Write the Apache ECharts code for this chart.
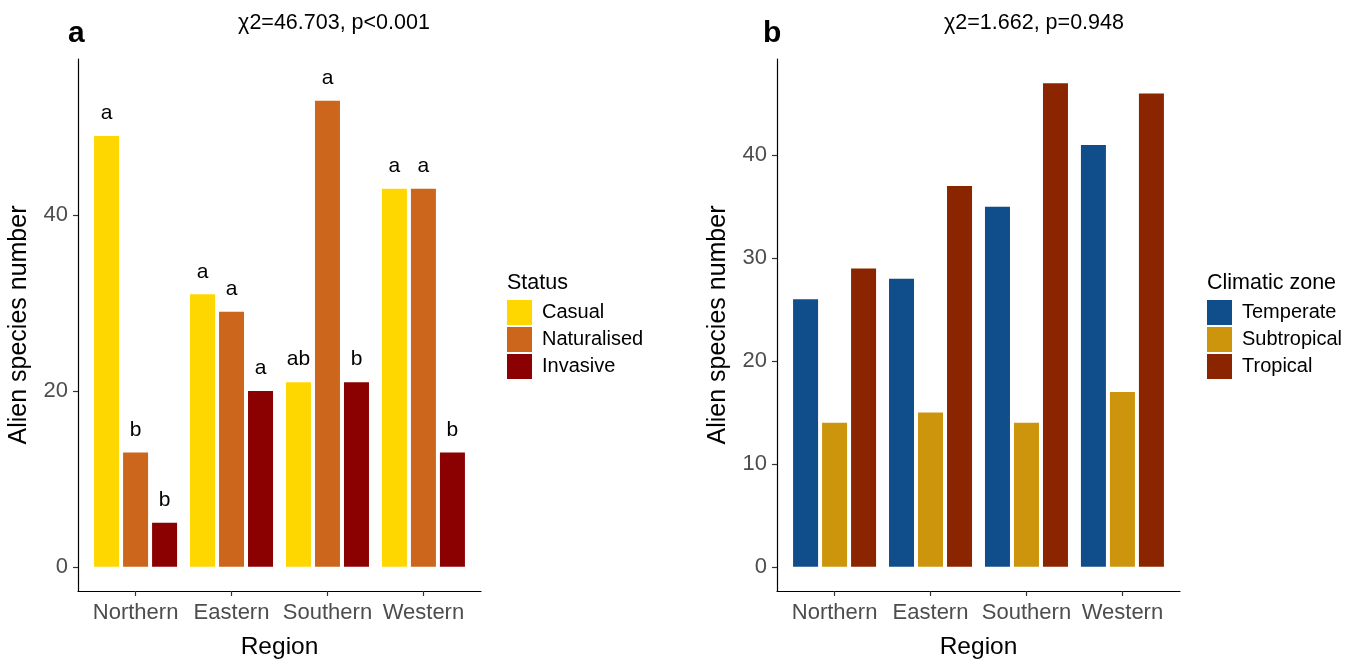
<!DOCTYPE html>
<html>
<head>
<meta charset="utf-8">
<script src="https://cdn.jsdelivr.net/npm/echarts@6/dist/echarts.min.js"></script>
<style>html,body{margin:0;padding:0;background:#fff;}#c{width:1357px;height:665px;}</style>
</head>
<body>
<div id="c"></div>
<script>
const regions = ['Northern', 'Eastern', 'Southern', 'Western'];
// Panel a: status
const casual = [49, 31, 21, 43];
const naturalised = [13, 29, 53, 43];
const invasive = [5, 20, 21, 13];
const casualLetters = ['a', 'a', 'ab', 'a'];
const naturalisedLetters = ['b', 'a', 'a', 'a'];
const invasiveLetters = ['b', 'a', 'b', 'b'];
const ticksA = [0, 20, 40];
// Panel b: climatic zone
const temperate = [26, 28, 35, 41];
const subtropical = [14, 15, 14, 17];
const tropical = [29, 37, 47, 46];
const ticksB = [0, 10, 20, 30, 40];

const FONT = '"Liberation Sans", Arial, sans-serif';
const regionPos = regions.map((r, i) => i + 1);
const chart = echarts.init(document.getElementById('c'));

function xAx(gi) {
  return {
    type: 'value', gridIndex: gi, min: 0.4, max: regions.length + 0.6,
    name: 'Region', nameLocation: 'middle', nameGap: 44,
    nameTextStyle: {fontSize: 24.5, color: '#000', fontFamily: FONT},
    axisLine: {show: true, onZero: false, lineStyle: {color: '#000', width: 1.2}},
    axisTick: {show: true, length: 5, customValues: regionPos, lineStyle: {color: '#333', width: 1.2}},
    axisLabel: {fontSize: 22, color: '#4D4D4D', fontFamily: FONT, margin: 11,
      customValues: regionPos, formatter: v => regions[Math.round(v) - 1]},
    splitLine: {show: false}
  };
}
function yAx(gi, min, max, ticks) {
  return {
    type: 'value', gridIndex: gi, min: min, max: max,
    name: 'Alien species number', nameLocation: 'middle', nameGap: 46,
    nameTextStyle: {fontSize: 25, color: '#000', fontFamily: FONT},
    axisLine: {show: true, onZero: false, lineStyle: {color: '#000', width: 1.2}},
    axisTick: {show: true, length: 5, customValues: ticks, lineStyle: {color: '#333', width: 1.2}},
    axisLabel: {fontSize: 22, color: '#4D4D4D', fontFamily: FONT, margin: 10, customValues: ticks},
    splitLine: {show: false}
  };
}
function bar(name, vals, color, gi, letters) {
  const s = {
    name: name, type: 'bar', xAxisIndex: gi, yAxisIndex: gi,
    data: vals.map((v, i) => [regionPos[i], v]),
    barWidth: 25, barGap: '16%',
    itemStyle: {color: color},
    emphasis: {disabled: true}
  };
  if (letters) {
    s.label = {show: true, position: 'top', distance: 12, fontSize: 21, color: '#000', fontFamily: FONT,
      formatter: p => letters[p.dataIndex]};
  }
  return s;
}
function legend(items, left) {
  return {
    data: items, orient: 'vertical', left: left, top: 300, padding: 0,
    itemWidth: 25, itemHeight: 25, itemGap: 2, icon: 'rect',
    textStyle: {fontSize: 20, color: '#000', fontFamily: FONT, padding: [0, 0, 0, 5]},
    selectedMode: false
  };
}
function txt(x, y, t, size, weight, align) {
  return {type: 'text', x: x, y: y, style: {text: t, fontSize: size, fontWeight: weight || 'normal',
    fill: '#000', fontFamily: FONT, align: align || 'left', verticalAlign: 'middle'}};
}

chart.setOption({
  animation: false,
  backgroundColor: '#fff',
  grid: [
    {left: 78, top: 59, width: 403, height: 533},
    {left: 777, top: 59, width: 403, height: 533}
  ],
  xAxis: [xAx(0), xAx(1)],
  yAxis: [yAx(0, -2.75, 57.75, ticksA), yAx(1, -2.35, 49.35, ticksB)],
  legend: [
    legend(['Casual', 'Naturalised', 'Invasive'], 507),
    legend(['Temperate', 'Subtropical', 'Tropical'], 1207)
  ],
  graphic: [
    txt(68, 34, 'a', 30, 'bold'),
    txt(763, 34, 'b', 30, 'bold'),
    txt(334, 23, 'χ2=46.703, p<0.001', 21.5, 'normal', 'center'),
    txt(1034, 23, 'χ2=1.662, p=0.948', 21.5, 'normal', 'center'),
    txt(507, 283, 'Status', 21.5),
    txt(1207, 283, 'Climatic zone', 21.5)
  ],
  series: [
    bar('Casual', casual, '#FFD700', 0, casualLetters),
    bar('Naturalised', naturalised, '#CD661D', 0, naturalisedLetters),
    bar('Invasive', invasive, '#8B0000', 0, invasiveLetters),
    bar('Temperate', temperate, '#104E8B', 1),
    bar('Subtropical', subtropical, '#CD950C', 1),
    bar('Tropical', tropical, '#8B2500', 1)
  ]
});
</script>
</body>
</html>
